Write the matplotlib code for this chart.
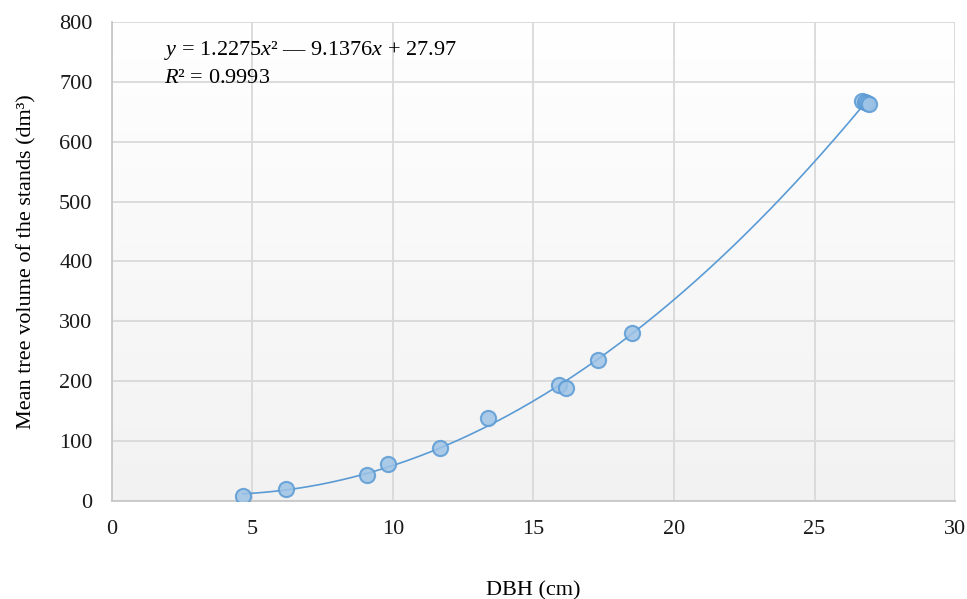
import numpy as np
import matplotlib
matplotlib.use("Agg")
import matplotlib.pyplot as plt

# DBH (cm) and mean tree volume (dm3)
dbh = [4.66, 6.19, 9.07, 9.82, 11.67, 13.38, 15.91, 16.16, 17.30, 18.51,
       26.70, 26.78, 26.86, 26.94]
volume = [8, 20, 43, 62, 88, 139, 194, 189, 235, 280,
          668, 667, 665, 663]

# trendline coefficients as printed on the chart
coef = [1.2275, -9.1376, 27.97]

plt.rcParams['font.family'] = ['Liberation Serif', 'DejaVu Serif']
plt.rcParams['mathtext.fontset'] = 'custom'
plt.rcParams['mathtext.rm'] = 'Liberation Serif'
plt.rcParams['mathtext.it'] = 'Liberation Serif:italic'

fs = 16

fig = plt.figure(figsize=(9.67, 5.99), dpi=100)
ax = fig.add_axes([0.1158, 0.1636, 0.8718, 0.7997])

# soft vertical gradient background
grad = np.linspace(1.0, 0.0, 256).reshape(-1, 1)
ax.imshow(grad, cmap=matplotlib.colors.LinearSegmentedColormap.from_list(
    "bg", ["#f2f2f2", "#ffffff"]), aspect='auto', extent=[0, 1, 0, 1],
    transform=ax.transAxes, zorder=0, vmin=0, vmax=1)

xs = np.linspace(min(dbh), max(dbh), 200)
ax.plot(xs, np.polyval(coef, xs), color='#5b9bd5', lw=1.2, zorder=3)
ax.scatter(dbh, volume, s=120, facecolor='#9dc3e6', edgecolor='#5b9bd5',
           linewidth=1.5, zorder=4, alpha=0.85)

ax.set_xlim(0, 30)
ax.set_ylim(0, 800)
ax.set_xticks(range(0, 31, 5))
ax.set_yticks(range(0, 801, 100))
ax.grid(True, color='#d9d9d9', lw=1.3, zorder=1)
ax.set_axisbelow(True)
for s in ['top', 'right']:
    ax.spines[s].set_visible(False)
for s in ['left', 'bottom']:
    ax.spines[s].set_color('#c8c8c8')
    ax.spines[s].set_linewidth(1.3)
ax.tick_params(length=0, labelsize=fs, colors='#1a1a1a')
ax.tick_params(axis='x', pad=14)
ax.tick_params(axis='y', pad=14)

ax.set_xlabel('DBH (cm)', fontsize=fs, labelpad=30)
ax.set_ylabel('Mean tree volume of the stands (dm³)', fontsize=fs, labelpad=16)

ax.text(1.85, 752, r'$y$ = 1.2275$x$² — 9.1376$x$ + 27.97', fontsize=fs,
        va='center', zorder=5)
ax.text(1.85, 706, r'$R$² = 0.9993', fontsize=fs, va='center', zorder=5)

fig.savefig('out.png', dpi=100)
